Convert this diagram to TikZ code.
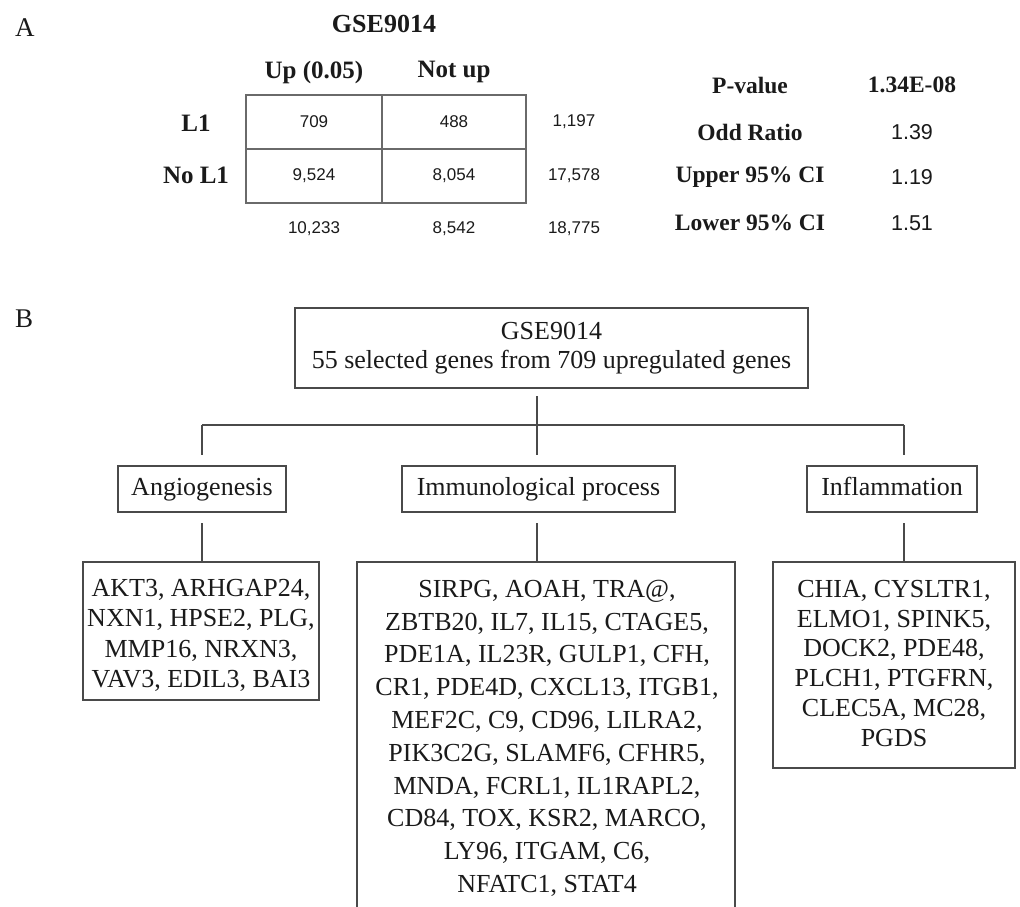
\documentclass[tikz,border=0pt]{standalone}
\usepackage{fontspec}
\setmainfont{Liberation Serif}
\newfontfamily\arialfont{Liberation Sans}
\definecolor{ink}{HTML}{1A1A1A}
\definecolor{rule}{HTML}{4A4A4A}
\definecolor{gridc}{HTML}{6A6A6A}
\begin{document}
\begin{tikzpicture}[x=1pt,y=-1pt,
  every node/.style={inner sep=0pt, outer sep=0pt, text=ink},
  panel/.style={font=\fontsize{27}{30}\selectfont, anchor=west},
  hdr/.style={font=\fontsize{25}{30}\selectfont\bfseries},
  stat/.style={font=\fontsize{23.5}{28}\selectfont\bfseries},
  num/.style={font=\arialfont\fontsize{17}{20}\selectfont},
  val/.style={font=\arialfont\fontsize{21.5}{25}\selectfont},
  cell/.style={num, draw=gridc, line width=1.8pt, minimum height=54pt},
  box/.style={draw=rule, line width=1.4pt, font=\fontsize{26}{29}\selectfont, align=center},
  catbox/.style={box, minimum height=46pt, text height=17.5pt, text depth=5.5pt},
  genebox/.style={draw=rule, line width=1.4pt},
  genes/.style={align=center, anchor=north},
  link/.style={draw=rule, line width=1.4pt},
]
\useasboundingbox (0,0) rectangle (1020,907);

% ---------------- Panel A: contingency table ----------------
\node[panel] (labA) at (15,28) {A};
\node[hdr, font=\fontsize{26}{30}\selectfont\bfseries] (title) at (384,24) {GSE9014};
\node[hdr] (hUp)  at (314,72) {Up (0.05)};
\node[hdr] (hNot) at (454,72) {Not up};
\node[hdr] (rL1)  at (196,123) {L1};
\node[hdr] (rNo)  at (196,175) {No L1};

\node[cell, minimum width=136pt] (c11) at (314,122) {709};
\node[cell, minimum width=144pt] (c12) at (454,122) {488};
\node[cell, minimum width=136pt] (c21) at (314,176) {9,524};
\node[cell, minimum width=144pt] (c22) at (454,176) {8,054};

\node[num] (t1) at (574,122) {1,197};
\node[num] (t2) at (574,176) {17,578};
\node[num] (t3) at (314,229) {10,233};
\node[num] (t4) at (454,229) {8,542};
\node[num] (t5) at (574,229) {18,775};

% statistics
\node[stat] (sP)  at (750,85)  {P-value};
\node[stat] (sO)  at (750,132) {Odd Ratio};
\node[stat] (sU)  at (750,177) {Upper 95\% CI};
\node[stat] (sL)  at (750,223) {Lower 95\% CI};
\node[stat] (vP)  at (912,85)  {1.34E-08};
\node[val]  (vO)  at (912,132) {1.39};
\node[val]  (vU)  at (912,177) {1.19};
\node[val]  (vL)  at (912,223) {1.51};

% ---------------- Panel B: gene tree ----------------
\node[panel] (labB) at (15,319) {B};

\node[box, minimum width=513pt, minimum height=80pt] (top) at (551.5,348)
  {GSE9014\\55 selected genes from 709 upregulated genes};

\node[catbox, minimum width=168pt] (ang) at (202,489) {Angiogenesis};
\node[catbox, minimum width=273pt] (imm) at (538.5,489) {Immunological process};
\node[catbox, minimum width=170pt] (inf) at (892,489) {Inflammation};

% gene boxes (the middle one runs past the lower edge)
\node[genebox, minimum width=236pt, minimum height=138pt] (angG) at (201,631) {};
\node[genebox, minimum width=378pt, minimum height=346pt] (immG) at (546,735) {};
\node[genebox, minimum width=242pt, minimum height=206pt] (infG) at (894,665) {};

\node[genes, font=\fontsize{26}{30.5}\selectfont] (angT) at (201,579)
  {AKT3, ARHGAP24,\\NXN1, HPSE2, PLG,\\MMP16, NRXN3,\\VAV3, EDIL3, BAI3};
\node[genes, font=\fontsize{26}{32.8}\selectfont] (immT) at (547,580)
  {SIRPG, AOAH, TRA@,\\ZBTB20, IL7, IL15, CTAGE5,\\PDE1A, IL23R, GULP1, CFH,\\CR1, PDE4D, CXCL13, ITGB1,\\MEF2C, C9, CD96, LILRA2,\\PIK3C2G, SLAMF6, CFHR5,\\MNDA, FCRL1, IL1RAPL2,\\CD84, TOX, KSR2, MARCO,\\LY96, ITGAM, C6,\\NFATC1, STAT4};
\node[genes, font=\fontsize{26}{29.8}\selectfont] (infT) at (894,580)
  {CHIA, CYSLTR1,\\ELMO1, SPINK5,\\DOCK2, PDE48,\\PLCH1, PTGFRN,\\CLEC5A, MC28,\\PGDS};

% connectors
\coordinate (jL) at (202,425);
\coordinate (jM) at (537,425);
\coordinate (jR) at (904,425);
\draw[link] (jL) -- (jR);
\draw[link, shorten <=8pt, shorten >=11pt] (top.south -| jM) -- (imm.north -| jM);
\draw[link, shorten >=11pt] (jL) -- (ang.north -| jL);
\draw[link, shorten >=11pt] (jR) -- (inf.north -| jR);
\draw[link, shorten <=11pt] (ang.south -| jL) -- (angG.north -| jL);
\draw[link, shorten <=11pt] (imm.south -| jM) -- (immG.north -| jM);
\draw[link, shorten <=11pt] (inf.south -| jR) -- (infG.north -| jR);
\end{tikzpicture}
\end{document}
